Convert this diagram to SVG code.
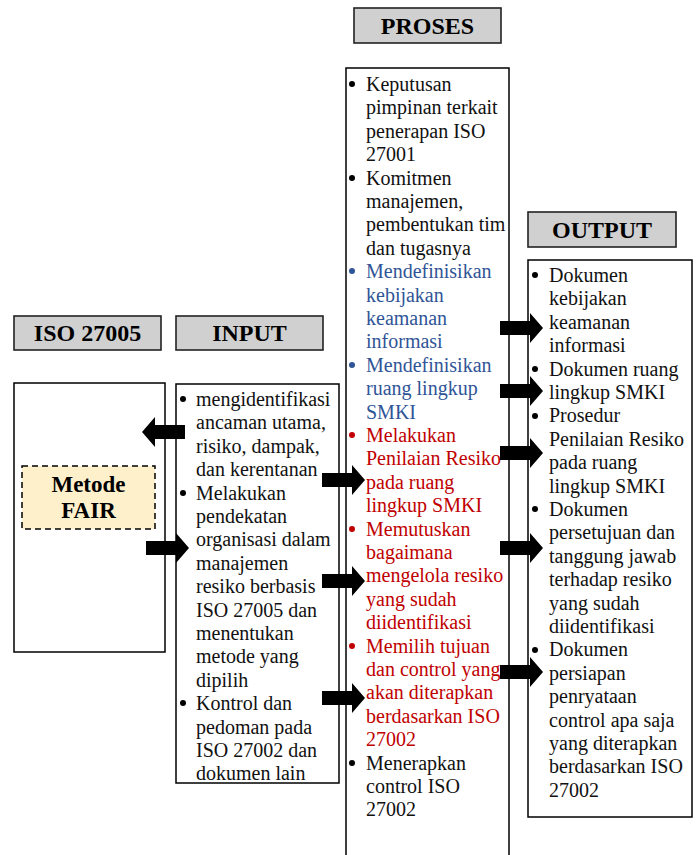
<svg xmlns="http://www.w3.org/2000/svg" width="696" height="855" viewBox="0 0 696 855">
<style>
.hdr{fill:#d0d0d0;stroke:#222;stroke-width:1.6}
.hdrt{font-family:"Liberation Serif","Times New Roman",serif;font-weight:bold;font-size:24px;fill:#000;text-anchor:middle}
.box{fill:#fff;stroke:#000;stroke-width:1.5}
.t{font-family:"Liberation Serif","Times New Roman",serif;font-size:20px;fill:#111}
.blue{fill:#2F5597}
.red{fill:#C00000}
.fair{fill:#FFF0CC;stroke:#000;stroke-width:1.5;stroke-dasharray:6,4}
.fairt{font-family:"Liberation Serif","Times New Roman",serif;font-weight:bold;font-size:23px;fill:#000;text-anchor:middle}
.arr{fill:#000}
</style>
<defs>
<path id="ar" d="M0,-7 H30 V-15 L43,0 L30,15 V7 H0 Z"/>
</defs>

<g id="hdr-iso"><rect class="hdr" x="14" y="316" width="147" height="34"/><text class="hdrt" x="87.5" y="341">ISO 27005</text></g>
<g id="hdr-input"><rect class="hdr" x="176" y="316" width="147" height="34"/><text class="hdrt" x="249.5" y="341">INPUT</text></g>
<g id="hdr-proses"><rect class="hdr" x="354" y="8" width="147" height="35"/><text class="hdrt" x="427.5" y="34">PROSES</text></g>
<g id="hdr-output"><rect class="hdr" x="528" y="212" width="148" height="35"/><text class="hdrt" x="602" y="238">OUTPUT</text></g>

<g id="iso-box">
<rect class="box" x="14" y="383" width="151" height="269"/>
<g id="fair"><rect class="fair" x="22" y="466" width="133" height="63"/>
<text class="fairt" x="88.5" y="492">Metode</text><text class="fairt" x="88.5" y="518">FAIR</text></g>
</g>

<g id="input-box">
<rect class="box" x="176" y="384" width="163" height="399"/>
<g fill="#000"><circle cx="183" cy="399" r="3"/><circle cx="183" cy="493" r="3"/><circle cx="183" cy="703" r="3"/></g>
<text class="t" x="196" y="406">mengidentifikasi<tspan x="196" dy="23.4">ancaman utama,</tspan><tspan x="196" dy="23.4">risiko, dampak,</tspan><tspan x="196" dy="23.4">dan kerentanan</tspan><tspan x="196" dy="23.4">Melakukan</tspan><tspan x="196" dy="23.4">pendekatan</tspan><tspan x="196" dy="23.4">organisasi dalam</tspan><tspan x="196" dy="23.4">manajemen</tspan><tspan x="196" dy="23.4">resiko berbasis</tspan><tspan x="196" dy="23.4">ISO 27005 dan</tspan><tspan x="196" dy="23.4">menentukan</tspan><tspan x="196" dy="23.4">metode yang</tspan><tspan x="196" dy="23.4">dipilih</tspan><tspan x="196" dy="23.4">Kontrol dan</tspan><tspan x="196" dy="23.4">pedoman pada</tspan><tspan x="196" dy="23.4">ISO 27002 dan</tspan><tspan x="196" dy="23.4">dokumen lain</tspan></text>
</g>

<g id="proses-box">
<rect class="box" x="346" y="68" width="163" height="800"/>
<circle cx="352" cy="84" r="3" fill="#000"/>
<circle cx="352" cy="178" r="3" fill="#000"/>
<circle cx="352" cy="271" r="3" fill="#2F5597"/>
<circle cx="352" cy="365" r="3" fill="#2F5597"/>
<circle cx="352" cy="435" r="3" fill="#C00000"/>
<circle cx="352" cy="529" r="3" fill="#C00000"/>
<circle cx="352" cy="646" r="3" fill="#C00000"/>
<circle cx="352" cy="763" r="3" fill="#000"/>
<text class="t" x="366" y="91">Keputusan<tspan x="366" dy="23.4">pimpinan terkait</tspan><tspan x="366" dy="23.4">penerapan ISO</tspan><tspan x="366" dy="23.4">27001</tspan><tspan x="366" dy="23.4">Komitmen</tspan><tspan x="366" dy="23.4">manajemen,</tspan><tspan x="366" dy="23.4">pembentukan tim</tspan><tspan x="366" dy="23.4">dan tugasnya</tspan><tspan class="blue" x="366" dy="23.4">Mendefinisikan</tspan><tspan class="blue" x="366" dy="23.4">kebijakan</tspan><tspan class="blue" x="366" dy="23.4">keamanan</tspan><tspan class="blue" x="366" dy="23.4">informasi</tspan><tspan class="blue" x="366" dy="23.4">Mendefinisikan</tspan><tspan class="blue" x="366" dy="23.4">ruang lingkup</tspan><tspan class="blue" x="366" dy="23.4">SMKI</tspan><tspan class="red" x="366" dy="23.4">Melakukan</tspan><tspan class="red" x="366" dy="23.4">Penilaian Resiko</tspan><tspan class="red" x="366" dy="23.4">pada ruang</tspan><tspan class="red" x="366" dy="23.4">lingkup SMKI</tspan><tspan class="red" x="366" dy="23.4">Memutuskan</tspan><tspan class="red" x="366" dy="23.4">bagaimana</tspan><tspan class="red" x="366" dy="23.4">mengelola resiko</tspan><tspan class="red" x="366" dy="23.4">yang sudah</tspan><tspan class="red" x="366" dy="23.4">diidentifikasi</tspan><tspan class="red" x="366" dy="23.4">Memilih tujuan</tspan><tspan class="red" x="366" dy="23.4">dan control yang</tspan><tspan class="red" x="366" dy="23.4">akan diterapkan</tspan><tspan class="red" x="366" dy="23.4">berdasarkan ISO</tspan><tspan class="red" x="366" dy="23.4">27002</tspan><tspan x="366" dy="23.4">Menerapkan</tspan><tspan x="366" dy="23.4">control ISO</tspan><tspan x="366" dy="23.4">27002</tspan></text>
</g>

<g id="output-box">
<rect class="box" x="528" y="260" width="164" height="557"/>
<g fill="#000"><circle cx="535" cy="275" r="3"/><circle cx="535" cy="369" r="3"/><circle cx="535" cy="416" r="3"/><circle cx="535" cy="509" r="3"/><circle cx="535" cy="650" r="3"/></g>
<text class="t" x="549" y="282">Dokumen<tspan x="549" dy="23.4">kebijakan</tspan><tspan x="549" dy="23.4">keamanan</tspan><tspan x="549" dy="23.4">informasi</tspan><tspan x="549" dy="23.4">Dokumen ruang</tspan><tspan x="549" dy="23.4">lingkup SMKI</tspan><tspan x="549" dy="23.4">Prosedur</tspan><tspan x="549" dy="23.4">Penilaian Resiko</tspan><tspan x="549" dy="23.4">pada ruang</tspan><tspan x="549" dy="23.4">lingkup SMKI</tspan><tspan x="549" dy="23.4">Dokumen</tspan><tspan x="549" dy="23.4">persetujuan dan</tspan><tspan x="549" dy="23.4">tanggung jawab</tspan><tspan x="549" dy="23.4">terhadap resiko</tspan><tspan x="549" dy="23.4">yang sudah</tspan><tspan x="549" dy="23.4">diidentifikasi</tspan><tspan x="549" dy="23.4">Dokumen</tspan><tspan x="549" dy="23.4">persiapan</tspan><tspan x="549" dy="23.4">penryataan</tspan><tspan x="549" dy="23.4">control apa saja</tspan><tspan x="549" dy="23.4">yang diterapkan</tspan><tspan x="549" dy="23.4">berdasarkan ISO</tspan><tspan x="549" dy="23.4">27002</tspan></text>
</g>

<g id="connectors" class="arr">
<use href="#ar" transform="translate(185,432) scale(-1,1)"/>
<use href="#ar" transform="translate(146,548)"/>
<use href="#ar" transform="translate(322,480)"/>
<use href="#ar" transform="translate(322,581)"/>
<use href="#ar" transform="translate(322,698)"/>
<use href="#ar" transform="translate(500,328)"/>
<use href="#ar" transform="translate(500,391)"/>
<use href="#ar" transform="translate(500,453)"/>
<use href="#ar" transform="translate(500,548)"/>
<use href="#ar" transform="translate(500,672)"/>
</g>
</svg>
